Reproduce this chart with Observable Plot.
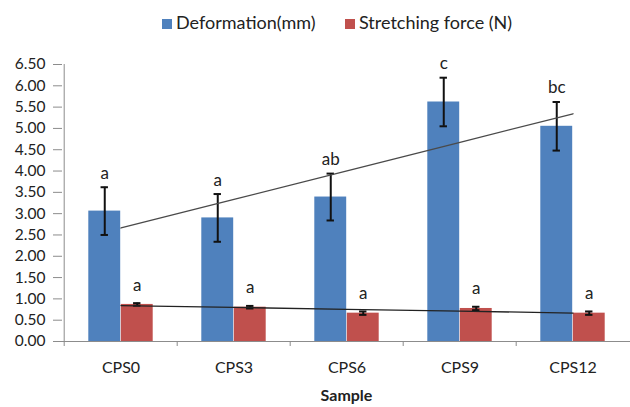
<!DOCTYPE html>
<html>
<head>
<meta charset="utf-8">
<script src="https://cdn.jsdelivr.net/npm/d3@7"></script>
<script src="https://cdn.jsdelivr.net/npm/@observablehq/plot@0.6"></script>
<style>
  body { margin: 0; background: #fff; font-family: Lato, "Noto Sans", sans-serif; }
  #legend { position: relative; width: 630px; height: 40px; font-size: 18px; color: #222; }
  .item { position: absolute; top: 11px; height: 22px; line-height: 22px; white-space: nowrap; }
  .sw { display: inline-block; width: 10px; height: 10px; margin-right: 4px; vertical-align: 0px; }
  svg [aria-label="x-axis label"] text { font-weight: bold; }
</style>
</head>
<body>
<div id="legend"></div>
<div id="chart"></div>
<script>
const samples = ["CPS0", "CPS3", "CPS6", "CPS9", "CPS12"];
const deformation = [3.06, 2.90, 3.39, 5.62, 5.05];
const deformationErr = [0.56, 0.56, 0.55, 0.57, 0.57];
const force = [0.87, 0.805, 0.665, 0.775, 0.665];
const forceErr = [0.03, 0.03, 0.04, 0.04, 0.04];
const deformationLetters = ["a", "a", "ab", "c", "bc"];
const forceLetters = ["a", "a", "a", "a", "a"];
const seriesNames = ["Deformation(mm)", "Stretching force (N)"];
const colors = ["#4F81BD", "#C0504D"];
const yTicks = d3.range(0, 6.51, 0.5);

const rows = samples.map((s, i) => ({
  sample: s, def: deformation[i], defErr: deformationErr[i],
  frc: force[i], frcErr: forceErr[i],
  defL: deformationLetters[i], frcL: forceLetters[i]
}));

function fit(vals) {
  const xs = vals.map((_, i) => i);
  const mx = d3.mean(xs), my = d3.mean(vals);
  const b = d3.sum(xs, (x, i) => (x - mx) * (vals[i] - my)) / d3.sum(xs, x => (x - mx) ** 2);
  return { a: my - b * mx, b };
}
const fd = fit(deformation), ff = fit(force);

// legend
const legend = document.getElementById("legend");
const lpos = [162, 345];
seriesNames.forEach((n, i) => {
  const el = document.createElement("div");
  el.className = "item";
  el.style.left = lpos[i] + "px";
  el.innerHTML = `<span class="sw" style="background:${colors[i]}"></span>${n}`;
  legend.appendChild(el);
});

const W = 630, H = 367, mL = 62, mR = 0;
const step = (W - mL - mR) / samples.length;
const barW = 32.5;
const outer = (step - 2 * barW) / 2;
const capHalf = 4;
const axisColor = "#8c8c8c";

const chart = Plot.plot({
  width: W, height: H,
  marginLeft: mL, marginRight: mR, marginTop: 24, marginBottom: 66,
  style: { fontFamily: "Lato, 'Noto Sans', sans-serif", fontSize: "15px", color: "#222", background: "#fff" },
  x: { domain: samples, padding: 0, label: "Sample" },
  y: { domain: [0, 6.5], label: null },
  marks: [
    Plot.barY(rows, { x: "sample", y: "def", fill: colors[0], insetLeft: outer, insetRight: step - outer - barW }),
    Plot.barY(rows, { x: "sample", y: "frc", fill: colors[1], insetLeft: outer + barW, insetRight: outer }),
    // axes lines
    Plot.ruleY([0], { stroke: axisColor, strokeWidth: 1 }),
    Plot.ruleX([samples[0]], { x: d => d, dx: -step / 2, y1: 0, y2: 6.5, stroke: axisColor }),
    Plot.ruleX(samples, { x: d => d, dx: -step / 2, y1: 0, y2: 0, insetBottom: -5, stroke: axisColor }),
    Plot.axisY({ ticks: yTicks, tickFormat: ".2f", tickSize: 9, tickPadding: 8, stroke: axisColor, fontSize: 15.5 }),
    Plot.axisX({ tickSize: 0, tickPadding: 20, fontSize: 16, label: "Sample", labelAnchor: "center", labelOffset: 59, labelArrow: "none" }),
    // error bars deformation
    Plot.ruleX(rows, { x: "sample", dx: -barW / 2, y1: d => d.def - d.defErr, y2: d => d.def + d.defErr, stroke: "#111", strokeWidth: 2 }),
    Plot.tickY(rows, { x: "sample", y: d => d.def + d.defErr, insetLeft: outer + barW / 2 - capHalf, insetRight: step - outer - barW / 2 - capHalf, stroke: "#111", strokeWidth: 2 }),
    Plot.tickY(rows, { x: "sample", y: d => d.def - d.defErr, insetLeft: outer + barW / 2 - capHalf, insetRight: step - outer - barW / 2 - capHalf, stroke: "#111", strokeWidth: 2 }),
    // error bars force
    Plot.ruleX(rows, { x: "sample", dx: barW / 2, y1: d => d.frc - d.frcErr, y2: d => d.frc + d.frcErr, stroke: "#111", strokeWidth: 2 }),
    Plot.tickY(rows, { x: "sample", y: d => d.frc + d.frcErr, insetLeft: outer + 1.5 * barW - capHalf, insetRight: outer + barW / 2 - capHalf, stroke: "#111", strokeWidth: 2 }),
    Plot.tickY(rows, { x: "sample", y: d => d.frc - d.frcErr, insetLeft: outer + 1.5 * barW - capHalf, insetRight: outer + barW / 2 - capHalf, stroke: "#111", strokeWidth: 2 }),
    // trend lines
    Plot.line(samples, { x: d => d, y: (d, i) => fd.a + fd.b * i, stroke: "#4a4a4a", strokeWidth: 1.3 }),
    Plot.line(samples, { x: d => d, y: (d, i) => ff.a + ff.b * i, stroke: "#222", strokeWidth: 1.3 }),
    // letters
    Plot.text(rows, { x: "sample", dx: -barW / 2, y: d => d.def + d.defErr, dy: -14, text: "defL", fontSize: 17, fill: "#222" }),
    Plot.text(rows, { x: "sample", dx: barW / 2, y: d => d.frc + d.frcErr, dy: -18, text: "frcL", fontSize: 17, fill: "#222" })
  ]
});
document.getElementById("chart").appendChild(chart);
</script>
</body>
</html>
